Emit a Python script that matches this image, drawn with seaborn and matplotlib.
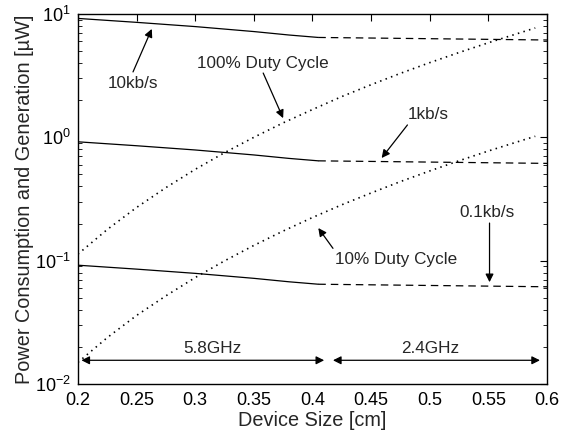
import matplotlib
matplotlib.use("Agg")
import matplotlib.pyplot as plt
import seaborn as sns
import pandas as pd
from matplotlib.ticker import LogLocator, FixedLocator, FixedFormatter

sns.set_theme(style="white")
plt.rcParams['font.family'] = ['Liberation Sans', 'DejaVu Sans']
plt.rcParams['mathtext.fontset'] = 'custom'
plt.rcParams['mathtext.rm'] = 'Liberation Sans'
plt.rcParams['mathtext.it'] = 'Liberation Sans:italic'

# solid segment (5.8GHz region)
size_solid = [0.2, 0.25, 0.3, 0.35, 0.38, 0.405]
p10k_solid = [9.2, 8.55, 7.9, 7.2, 6.75, 6.45]
p1k_solid = [0.92, 0.855, 0.79, 0.72, 0.675, 0.645]
p01k_solid = [0.092, 0.0855, 0.079, 0.072, 0.0675, 0.0645]
# dashed segment (2.4GHz region)
size_dash = [0.405, 0.6]
p10k_dash = [6.45, 6.15]
p1k_dash = [0.645, 0.615]
p01k_dash = [0.0645, 0.0615]
# generation curves
size_gen = [0.2, 0.225, 0.25, 0.275, 0.3, 0.325, 0.35, 0.375, 0.4,
            0.425, 0.45, 0.475, 0.5, 0.525, 0.55, 0.575, 0.59]
gen_100 = [0.113, 0.179, 0.27, 0.391, 0.55, 0.751, 1.0, 1.31, 1.68,
           2.14, 2.67, 3.30, 4.03, 4.87, 5.84, 6.94, 7.7]
gen_10 = [0.015, 0.0238, 0.036, 0.0519, 0.073, 0.0997, 0.133, 0.174, 0.224,
          0.284, 0.354, 0.438, 0.534, 0.646, 0.775, 0.921, 1.02]

xticks = [0.2, 0.25, 0.3, 0.35, 0.4, 0.45, 0.5, 0.55, 0.6]
xticklabels = ["0.2", "0.25", "0.3", "0.35", "0.4", "0.45", "0.5", "0.55", "0.6"]

fig = plt.figure(figsize=(5.77, 4.36), dpi=100)
ax = fig.add_axes([0.135, 0.119, 0.813, 0.849])

for ys in (p10k_solid, p1k_solid, p01k_solid):
    sns.lineplot(x=size_solid, y=ys, ax=ax, color='black', lw=0.9)
for ys in (p10k_dash, p1k_dash, p01k_dash):
    sns.lineplot(x=size_dash, y=ys, ax=ax, color='black', lw=0.9, linestyle=(0, (6, 4)))
for ys in (gen_100, gen_10):
    sns.lineplot(x=size_gen, y=ys, ax=ax, color='black', lw=1.2, linestyle=(0, (0.9, 2.6)))

ax.set_yscale('log')
ax.set_xlim(0.2, 0.6)
ax.set_ylim(1e-2, 1e1)
ax.xaxis.set_major_locator(FixedLocator(xticks))
ax.xaxis.set_major_formatter(FixedFormatter(xticklabels))
ax.yaxis.set_major_locator(LogLocator(base=10, numticks=10))
ax.yaxis.set_minor_locator(LogLocator(base=10, subs=range(2, 10), numticks=20))

ax.tick_params(which='both', direction='in', top=True, right=True, labelsize=13, colors='black')
ax.tick_params(which='major', length=5, width=0.8)
ax.tick_params(axis='x', which='major', pad=6)
ax.tick_params(axis='y', which='major', pad=5)
ax.tick_params(which='minor', length=3, width=0.6, left=True, right=True)
for s in ax.spines.values():
    s.set_color('black')
    s.set_linewidth(1.0)

ax.set_xlabel('Device Size [cm]', fontsize=14.3, labelpad=1)
ax.set_ylabel('Power Consumption and Generation [\u00b5W]', fontsize=14.3, labelpad=1)

arrow = dict(arrowstyle='-|>', color='black', lw=0.9, mutation_scale=12, shrinkA=0, shrinkB=0)
fs = 12.3
ax.annotate('', xy=(0.263, 7.56), xytext=(0.247, 3.39), arrowprops=arrow)
ax.text(0.247, 2.75, '10kb/s', ha='center', va='center', fontsize=fs)
ax.annotate('', xy=(0.375, 1.43), xytext=(0.358, 3.32), arrowprops=arrow)
ax.text(0.358, 4.0, '100% Duty Cycle', ha='center', va='center', fontsize=fs)
ax.annotate('', xy=(0.459, 0.68), xytext=(0.481, 1.26), arrowprops=arrow)
ax.text(0.499, 1.52, '1kb/s', ha='center', va='center', fontsize=fs)
ax.annotate('', xy=(0.551, 0.067), xytext=(0.551, 0.202), arrowprops=arrow)
ax.text(0.549, 0.248, '0.1kb/s', ha='center', va='center', fontsize=fs)
ax.annotate('', xy=(0.405, 0.184), xytext=(0.4175, 0.126), arrowprops=arrow)
ax.text(0.471, 0.103, '10% Duty Cycle', ha='center', va='center', fontsize=fs)

darrow = dict(arrowstyle='<|-|>', color='black', lw=0.9, mutation_scale=12, shrinkA=0, shrinkB=0)
ax.annotate('', xy=(0.203, 0.0156), xytext=(0.41, 0.0156), arrowprops=darrow)
ax.text(0.315, 0.0195, '5.8GHz', ha='center', va='center', fontsize=fs)
ax.annotate('', xy=(0.4175, 0.0156), xytext=(0.594, 0.0156), arrowprops=darrow)
ax.text(0.5, 0.0195, '2.4GHz', ha='center', va='center', fontsize=fs)

fig.savefig('out.png', dpi=100)
